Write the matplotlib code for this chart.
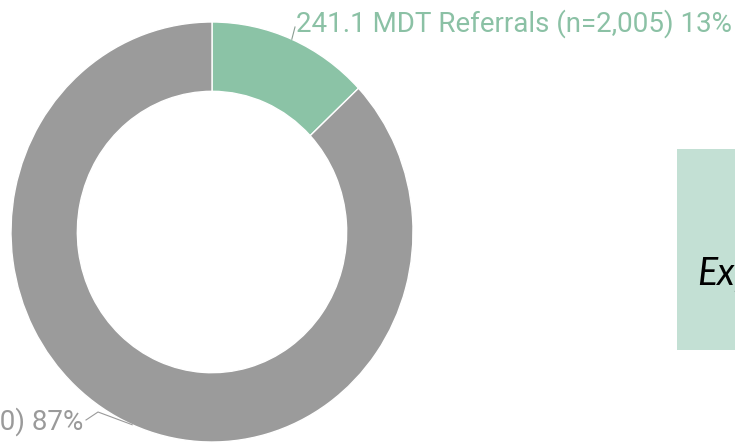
import matplotlib
matplotlib.use('Agg')
import matplotlib.pyplot as plt
from matplotlib.patches import Rectangle
from matplotlib.lines import Line2D

# Data
labels = ['241.1 MDT Referrals (n=2,005) 13%', 'Other Referrals (n=13,420) 87%']
values = [13, 87]
colors = ['#8bc3a6', '#9b9b9b']
text_colors = ['#8bc1a5', '#9a9a9a']
note_text = 'Explanation'

W, H = 735, 444
fig = plt.figure(figsize=(W / 100, H / 100), dpi=100)


def fx(px):
    return px / W


def fy(py):
    # pixel row from top -> figure fraction
    return 1 - py / H


# Donut axes (slightly stretched vertically like the reference)
ax = fig.add_axes([fx(11), fy(442), 402 / W, 420 / H])
wedges, _ = ax.pie(values, colors=colors, startangle=90, counterclock=False,
                   radius=1, wedgeprops=dict(width=0.33, edgecolor='white', linewidth=1))
ax.set_aspect('auto')
ax.set_xlim(-1, 1)
ax.set_ylim(-1, 1)
ax.axis('off')

# Leader-line anchor points: outer edge at mid-angle of each wedge
import numpy as np
total = sum(values)
cum = np.cumsum([0] + values[:-1])
mid = [np.deg2rad(90 - 360 * (c + v / 2) / total) for c, v in zip(cum, values)]
edge = [ax.transData.transform((np.cos(a), np.sin(a))) for a in mid]
edge = [fig.transFigure.inverted().transform(p) for p in edge]

# Green label
fig.text(fx(296), fy(32), labels[0], color=text_colors[0], fontsize=20,
         family='Roboto', ha='left', va='baseline')
fig.add_artist(Line2D([edge[0][0], fx(295)], [edge[0][1], fy(27)],
                      transform=fig.transFigure, color='#8a9d92', lw=0.8))

# Gray label (cut off at left edge)
fig.text(fx(83), fy(430), labels[1], color=text_colors[1], fontsize=20,
         family='Roboto', ha='right', va='baseline')
fig.add_artist(Line2D([fx(86), fx(98), edge[1][0]], [fy(420), fy(412), edge[1][1]],
                      transform=fig.transFigure, color='#9a9a9a', lw=0.8))

# Note box on the right (cut off)
fig.add_artist(Rectangle((fx(677), fy(350)), fx(80), 201 / H, transform=fig.transFigure,
                         facecolor='#c3e0d4', edgecolor='none'))
fig.text(fx(697), fy(285), note_text, color='black', fontsize=27, style='italic',
         family='Lato', ha='left', va='baseline')

fig.savefig('out.png', dpi=100)
